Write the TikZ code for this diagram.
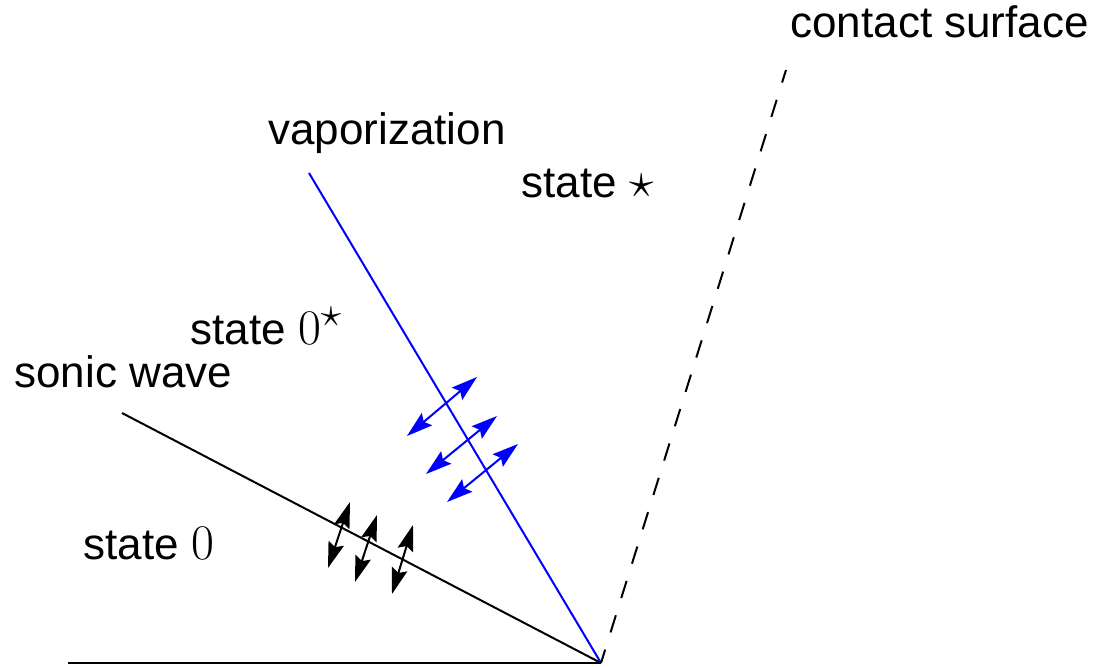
\documentclass[tikz,border=0pt]{standalone}
\usepackage{fontspec}
\setmainfont{Liberation Sans}
\usetikzlibrary{arrows.meta}
\newcommand{\lgmath}[1]{{\fontsize{31}{36}\selectfont$#1$}}
\begin{document}
\begin{tikzpicture}[x=0.5pt,y=-0.5pt,
  lbl/.style={anchor=base west,inner sep=0pt,font=\fontsize{22}{26}\selectfont},
  ln/.style={line width=1pt},
  dbl/.style={line width=1pt,{Stealth[length=13pt,width=8pt,inset=2pt]}-{Stealth[length=13pt,width=8pt,inset=2pt]}}]
\useasboundingbox (0,0) rectangle (1116,668);
\coordinate (O) at (601,663);
\coordinate (G) at (68,663);
\coordinate (S) at (122,413);
\coordinate (V) at (309,173);
\coordinate (C) at (786,70);
\draw[ln] (G) -- (O);
\draw[ln] (S) -- (O);
\draw[ln,blue] (V) -- (O);
\draw[ln,dash pattern=on 9pt off 9pt,dash phase=2pt] (O) -- (C);
\node[lbl] (tc) at (790,38) {contact surface};
\node[lbl] (tv) at (268,145) {vaporization};
\node[lbl] (ts) at (521,198) {state \lgmath{\star}};
\node[lbl] (t0s) at (190,345) {state \lgmath{0^{\star}}};
\node[lbl] (tsw) at (14,388) {sonic wave};
\node[lbl] (t0) at (83,560) {state \lgmath{0}};
% black double arrows
\coordinate (a1) at (328,568); \coordinate (b1) at (350,502);
\coordinate (a2) at (355,582); \coordinate (b2) at (377,515);
\coordinate (a3) at (392,594); \coordinate (b3) at (413,525);
\draw[dbl] (a1) -- (b1);
\draw[dbl] (a2) -- (b2);
\draw[dbl] (a3) -- (b3);
% blue double arrows
\coordinate (c1) at (407,436); \coordinate (d1) at (477,377);
\coordinate (c2) at (426,474); \coordinate (d2) at (497,416);
\coordinate (c3) at (447,502); \coordinate (d3) at (518,444);
\draw[dbl,blue] (c1) -- (d1);
\draw[dbl,blue] (c2) -- (d2);
\draw[dbl,blue] (c3) -- (d3);
\end{tikzpicture}
\end{document}
